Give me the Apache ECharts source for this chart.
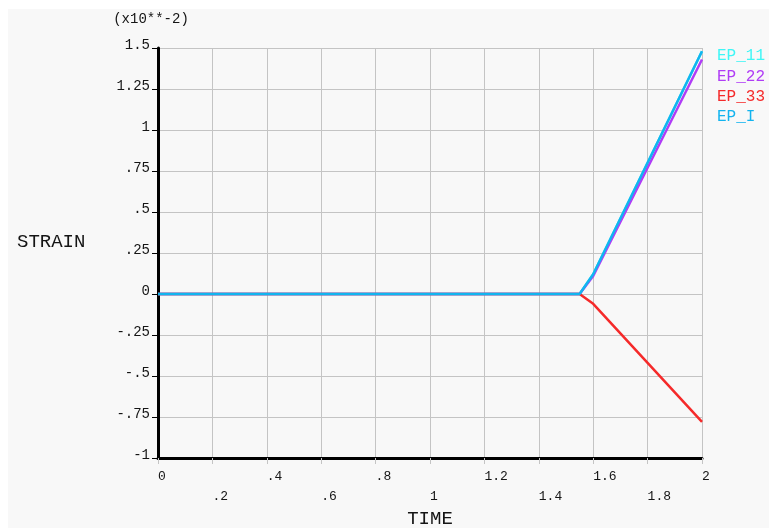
<!DOCTYPE html>
<html>
<head>
<meta charset="utf-8">
<script src="https://cdn.jsdelivr.net/npm/echarts@6/dist/echarts.min.js"></script>
<style>
  html, body { margin: 0; padding: 0; background: #ffffff; }
  #panel { position: absolute; left: 8px; top: 9px; right: 0; bottom: 0; background: #f8f8f8; }
  #chart { position: absolute; left: 0; top: 0; width: 769px; height: 528px; }
</style>
</head>
<body>
<div id="panel"></div>
<div id="chart"></div>
<script>
// Strain history (units of 1e-2) against solution time
const time = [0, 1.55, 1.6, 1.8, 2];
const ep11 = [0, 0, 0.12, 0.80, 1.48];
const ep22 = [0, 0, 0.11, 0.77, 1.43];
const ep33 = [0, 0, -0.06, -0.42, -0.78];
const epI  = [0, 0, 0.12, 0.80, 1.48];

const seriesNames = ['EP_11', 'EP_22', 'EP_33', 'EP_I'];
const seriesColors = ['#3ff6f6', '#b03cf6', '#f52a2a', '#12b4ef'];

const xTickLabels = ['0', '.2', '.4', '.6', '.8', '1', '1.2', '1.4', '1.6', '1.8', '2'];
const yTickLabels = ['-1', '-.75', '-.5', '-.25', '0', '.25', '.5', '.75', '1', '1.25', '1.5'];

const MONO = '"Liberation Mono", "DejaVu Sans Mono", monospace';
const INK = '#151515';

function pairs(ys) {
  return time.map((t, i) => [t, ys[i]]);
}

const chart = echarts.init(document.getElementById('chart'), null, { renderer: 'canvas' });

const values = [ep11, ep22, ep33, epI];

chart.setOption({
  backgroundColor: 'transparent',
  animation: false,
  grid: { left: 158, right: 67, top: 48, bottom: 70, containLabel: false },
  title: [
    { text: '(x10**-2)', left: 151, top: 12, padding: 0, textAlign: 'center',
      textStyle: { fontFamily: MONO, fontSize: 14, fontWeight: 'normal', color: INK } },
    { text: 'STRAIN', left: 17, top: 232, padding: 0,
      textStyle: { fontFamily: MONO, fontSize: 19, fontWeight: 'normal', color: INK } },
    { text: 'TIME', left: 430, top: 509, padding: 0, textAlign: 'center',
      textStyle: { fontFamily: MONO, fontSize: 19, fontWeight: 'normal', color: INK } }
  ],
  legend: {
    orient: 'vertical',
    left: 711, top: 46,
    padding: 0,
    itemWidth: 0, itemHeight: 0, itemGap: 0.4,
    selectedMode: false,
    data: seriesNames.map((n, i) => ({
      name: n,
      itemStyle: { opacity: 0 },
      lineStyle: { opacity: 0 },
      textStyle: { color: seriesColors[i] }
    })),
    textStyle: { fontFamily: MONO, fontSize: 16, lineHeight: 20 }
  },
  xAxis: {
    type: 'value', min: 0, max: 2, interval: 0.2,
    axisLine: { onZero: false, lineStyle: { color: '#000', width: 3 } },
    axisTick: { show: true, length: 6, lineStyle: { color: '#c4c4c4', width: 1 } },
    splitLine: { show: true, lineStyle: { color: '#c4c4c4', width: 1 } },
    axisLabel: {
      margin: 9,
      align: 'left',
      fontFamily: MONO, fontSize: 13, lineHeight: 20, color: INK,
      showMinLabel: true, showMaxLabel: true,
      formatter: function (v) {
        const idx = Math.round(v / 0.2);
        const s = xTickLabels[idx];
        return idx % 2 ? '\n' + s : s;
      }
    }
  },
  yAxis: {
    type: 'value', min: -1, max: 1.5, interval: 0.25,
    axisLine: { onZero: false, lineStyle: { color: '#000', width: 3 } },
    axisTick: { show: true, length: 6, lineStyle: { color: '#000', width: 1 } },
    splitLine: { show: true, lineStyle: { color: '#c4c4c4', width: 1 } },
    axisLabel: {
      margin: 8,
      verticalAlign: 'bottom',
      fontFamily: MONO, fontSize: 14, lineHeight: 6, color: INK,
      showMinLabel: true, showMaxLabel: true,
      formatter: function (v) {
        const idx = Math.round((v + 1) / 0.25);
        return yTickLabels[idx];
      }
    }
  },
  series: seriesNames.map((n, i) => ({
    name: n,
    type: 'line',
    data: pairs(values[i]),
    showSymbol: false,
    symbol: 'none',
    lineStyle: { color: seriesColors[i], width: 2.5 },
    itemStyle: { color: seriesColors[i] }
  }))
});
</script>
</body>
</html>
